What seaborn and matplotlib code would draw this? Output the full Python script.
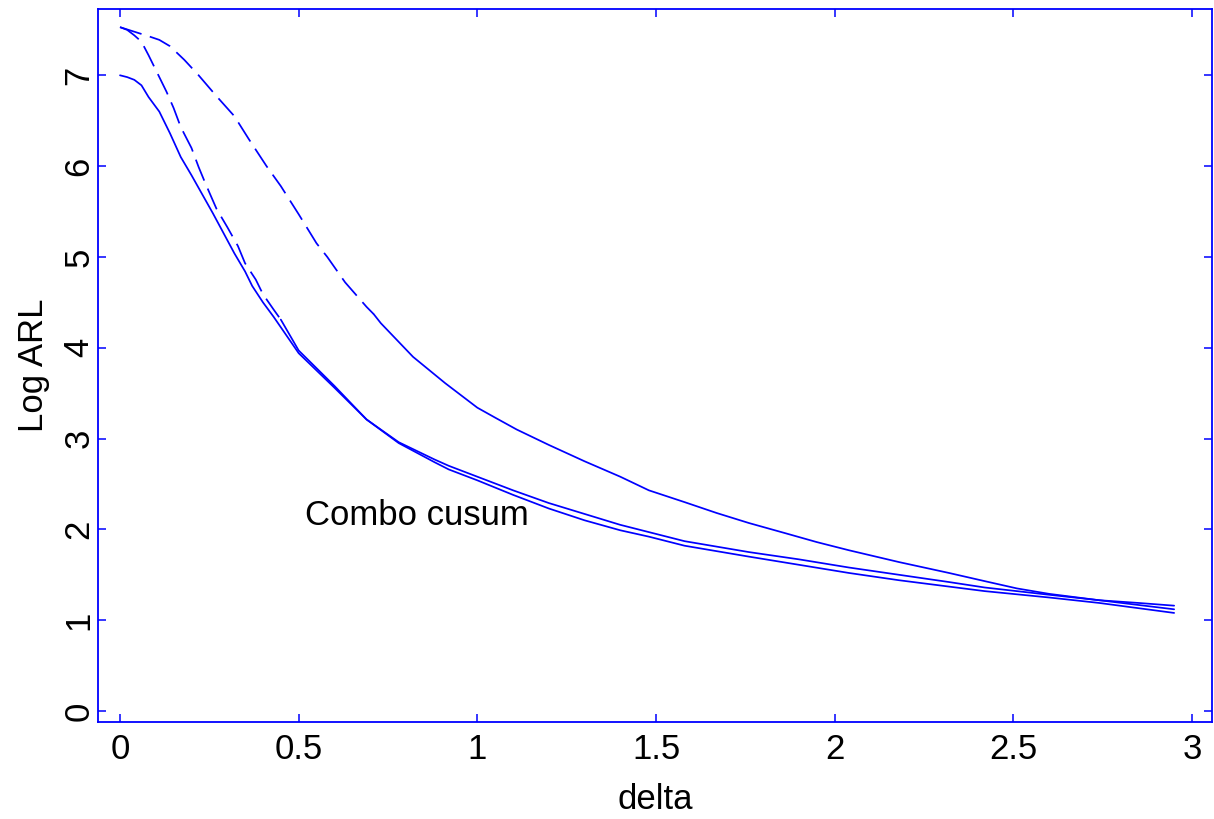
import matplotlib
matplotlib.use("Agg")
import matplotlib.pyplot as plt
import seaborn as sns
import numpy as np
import pandas as pd

# ---------------- data ----------------
# Curve A (top curve) - dashed part then solid part
a_dash_delta = [0.00, 0.04, 0.08, 0.11, 0.14, 0.18, 0.22, 0.27, 0.32, 0.36,
                0.41, 0.45, 0.50, 0.55, 0.58, 0.63, 0.69, 0.71]
a_dash_logarl = [7.53, 7.48, 7.43, 7.39, 7.32, 7.17, 7.00, 6.77, 6.55, 6.30,
                 6.00, 5.78, 5.47, 5.15, 5.00, 4.72, 4.45, 4.37]
a_solid_delta = [0.71, 0.73, 0.82, 0.91, 1.00, 1.05, 1.11, 1.20, 1.30, 1.40,
                 1.48, 1.58, 1.67, 1.76, 1.86, 1.95, 2.04, 2.18, 2.32, 2.42,
                 2.51, 2.60, 2.74, 2.85, 2.95]
a_solid_logarl = [4.37, 4.27, 3.90, 3.61, 3.34, 3.23, 3.10, 2.93, 2.75, 2.58,
                  2.43, 2.30, 2.18, 2.07, 1.96, 1.86, 1.77, 1.64, 1.52, 1.43,
                  1.35, 1.29, 1.22, 1.19, 1.16]

# Curve B (starts at 7.5, drops fast) - dashed part then solid part
b_dash_delta = [0.00, 0.02, 0.04, 0.06, 0.08, 0.10, 0.13, 0.15, 0.17, 0.20,
                0.22, 0.24, 0.27, 0.30, 0.33, 0.35, 0.38, 0.40, 0.43, 0.45]
b_dash_logarl = [7.53, 7.50, 7.44, 7.37, 7.22, 7.06, 6.82, 6.64, 6.43, 6.20,
                 5.99, 5.80, 5.53, 5.33, 5.12, 4.93, 4.75, 4.59, 4.42, 4.31]
b_solid_delta = [0.45, 0.50, 0.60, 0.69, 0.78, 0.88, 0.92, 1.00, 1.10, 1.20,
                 1.30, 1.40, 1.48, 1.58, 1.67, 1.76, 1.90, 2.04, 2.18, 2.32,
                 2.42, 2.60, 2.74, 2.95]
b_solid_logarl = [4.31, 3.97, 3.58, 3.21, 2.95, 2.74, 2.66, 2.54, 2.38, 2.23,
                  2.10, 1.99, 1.92, 1.82, 1.76, 1.70, 1.61, 1.52, 1.44, 1.37,
                  1.32, 1.25, 1.19, 1.08]

# Curve C (starts at 7.0, solid)
c_delta = [0.00, 0.02, 0.04, 0.06, 0.08, 0.11, 0.14, 0.17, 0.20, 0.22,
           0.26, 0.29, 0.32, 0.35, 0.37, 0.40, 0.43, 0.50, 0.60, 0.69,
           0.78, 0.88, 0.92, 1.00, 1.10, 1.20, 1.30, 1.40, 1.48, 1.58,
           1.67, 1.76, 1.90, 2.04, 2.18, 2.32, 2.42, 2.60, 2.74, 2.95]
c_logarl = [7.00, 6.98, 6.95, 6.89, 6.76, 6.60, 6.36, 6.10, 5.90, 5.76,
            5.48, 5.26, 5.04, 4.84, 4.68, 4.50, 4.34, 3.94, 3.56, 3.21,
            2.96, 2.77, 2.70, 2.58, 2.43, 2.29, 2.17, 2.05, 1.97, 1.87,
            1.81, 1.75, 1.67, 1.58, 1.50, 1.42, 1.36, 1.28, 1.22, 1.12]

x_ticks = [0, 0.5, 1, 1.5, 2, 2.5, 3]
x_tick_labels = ["0", "0.5", "1", "1.5", "2", "2.5", "3"]
y_ticks = [0, 1, 2, 3, 4, 5, 6, 7]
y_tick_labels = ["0", "1", "2", "3", "4", "5", "6", "7"]

annotation_text = "Combo cusum"
annotation_pos = (0.517, 2.05)

# ---------------- styling ----------------
sns.set_style("white")
plt.rcParams["font.family"] = ["Liberation Sans", "DejaVu Sans"]
plt.rcParams["text.color"] = "black"
plt.rcParams["axes.labelcolor"] = "black"

BLUE = "#0000FF"
FS = 25

fig = plt.figure(figsize=(12.14, 8.19), dpi=100)
ax = fig.add_axes([98 / 1214, 1 - 722 / 819, (1212 - 98) / 1214, (722 - 9) / 819])

dash = (0, (13, 5))
lw = 1.25
sns.lineplot(x=a_dash_delta, y=a_dash_logarl, ax=ax, color=BLUE, lw=lw, linestyle=dash)
sns.lineplot(x=a_solid_delta, y=a_solid_logarl, ax=ax, color=BLUE, lw=lw)
sns.lineplot(x=b_dash_delta, y=b_dash_logarl, ax=ax, color=BLUE, lw=lw, linestyle=dash)
sns.lineplot(x=b_solid_delta, y=b_solid_logarl, ax=ax, color=BLUE, lw=lw)
sns.lineplot(x=c_delta, y=c_logarl, ax=ax, color=BLUE, lw=lw)

ax.set_xlim(-0.0616, 3.056)
ax.set_ylim(-0.121, 7.73)

ax.set_xticks(x_ticks)
ax.set_xticklabels(x_tick_labels)
ax.set_yticks(y_ticks)
ax.set_yticklabels(y_tick_labels, rotation=90, va="center", ha="right")

for s in ax.spines.values():
    s.set_visible(True)
    s.set_color(BLUE)
    s.set_linewidth(1.3)

ax.tick_params(axis="both", which="both", direction="in", length=6, width=1.1,
               color=BLUE, top=True, right=True, bottom=True, left=True,
               labelsize=FS, labelcolor="black")
ax.tick_params(axis="x", pad=8)
ax.tick_params(axis="y", pad=2)

ax.set_xlabel("delta", fontsize=FS, color="black")
ax.set_ylabel("Log ARL", fontsize=FS, color="black")
ax.xaxis.set_label_coords(0.5, (722 - 783) / 713)
ax.yaxis.set_label_coords((50 - 98) / 1114, 0.5)

ax.text(annotation_pos[0], annotation_pos[1], annotation_text, fontsize=FS,
        ha="left", va="baseline", color="black")

ax.grid(False)
fig.savefig("out.png", dpi=100, facecolor="white")
